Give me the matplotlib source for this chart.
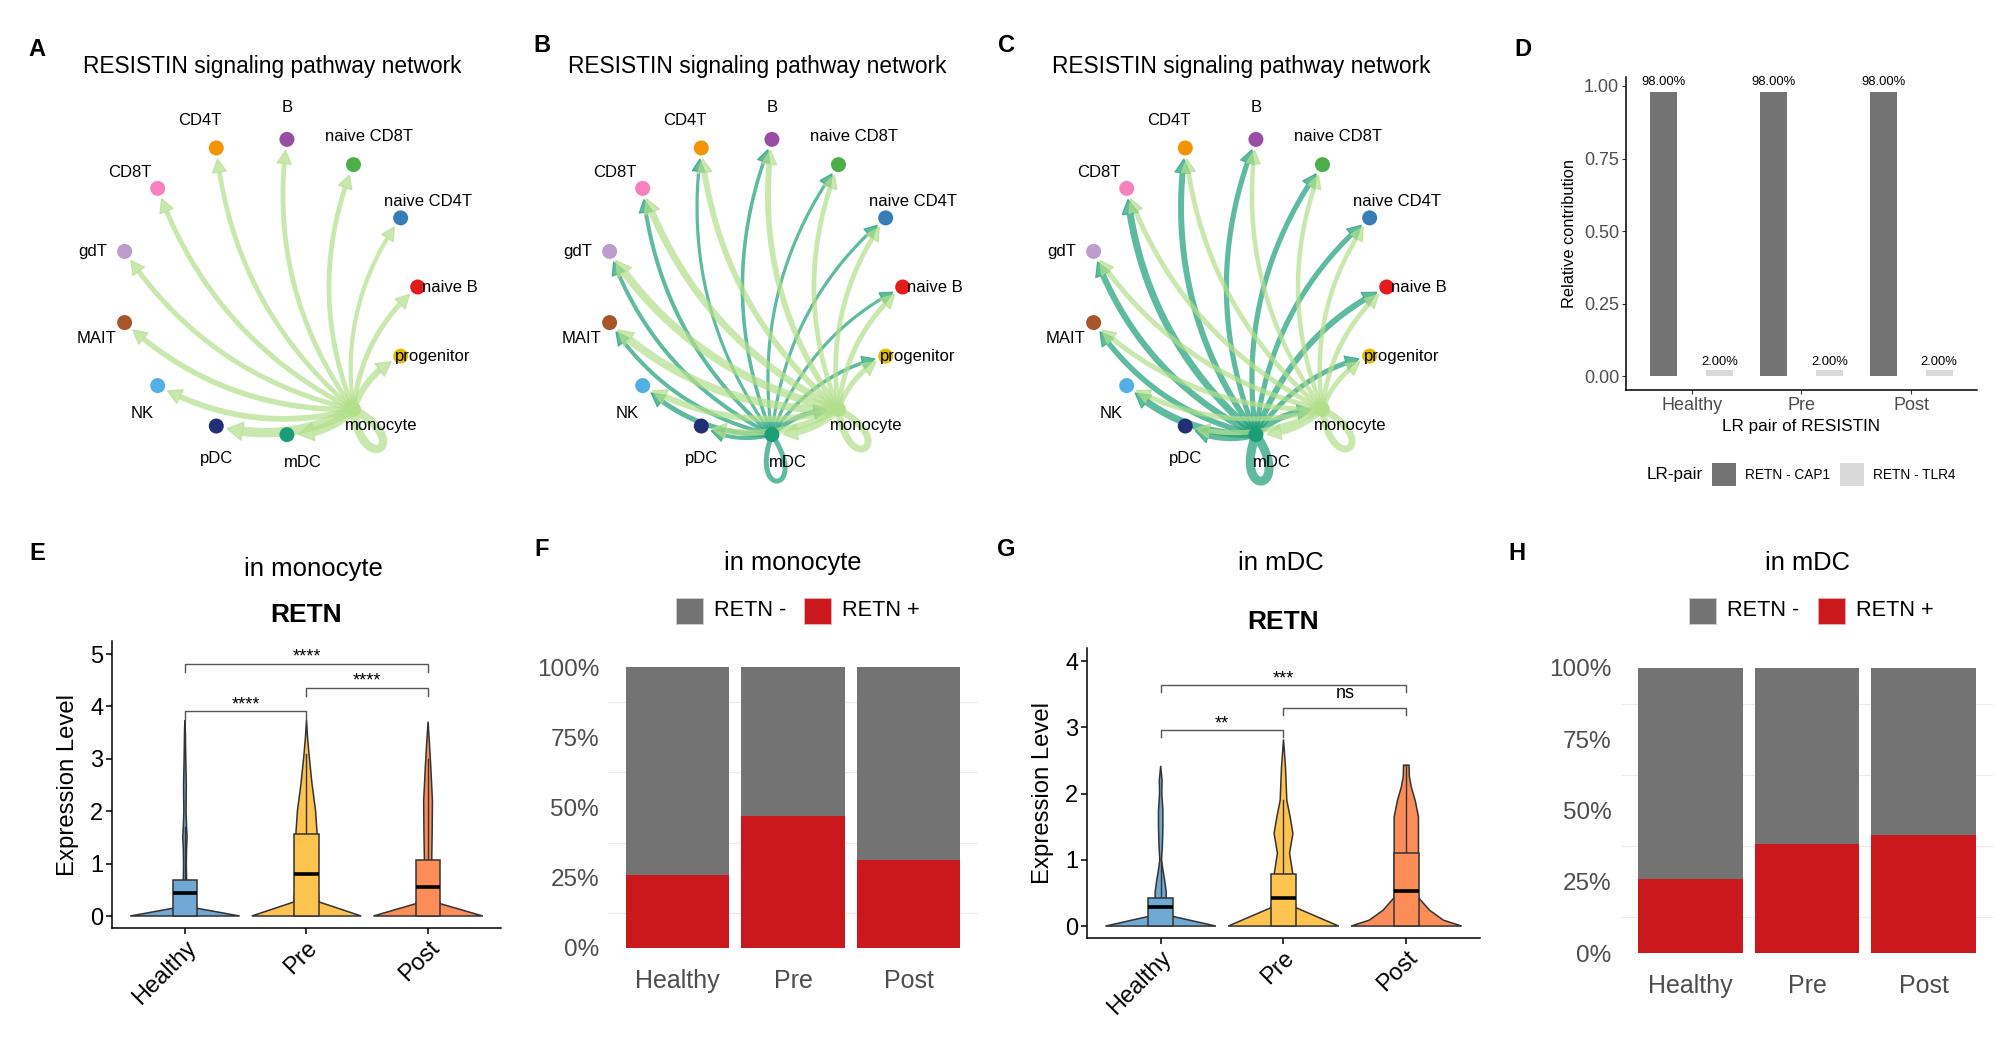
import numpy as np
import matplotlib
matplotlib.use("Agg")
import matplotlib.pyplot as plt
from matplotlib.patches import Polygon, Rectangle

plt.rcParams['font.family'] = ['Liberation Sans', 'DejaVu Sans']

# ---------------- data ----------------
cell_types = ["naive B", "naive CD4T", "naive CD8T", "B", "CD4T", "CD8T", "gdT",
              "MAIT", "NK", "pDC", "mDC", "monocyte", "progenitor"]
cell_colors = ["#E41A1C", "#377EB8", "#4DAF4A", "#984EA3", "#F29403", "#F781BF", "#BC9DCC",
               "#A65628", "#54B0E4", "#222F75", "#1B9E77", "#B2DF8A", "#E3BE00"]

# edge weights (source -> each target in cell_types order)
mono_A = [0.50, 0.42, 0.48, 0.48, 0.48, 0.50, 0.50, 0.55, 0.58, 0.95, 0.95, 0.85, 0.65]
mdc_A = [0] * 13
mono_B = [0.50, 0.48, 0.48, 0.58, 0.58, 0.70, 0.80, 0.80, 0.62, 0.62, 0.70, 0.70, 0.52]
mdc_B = [0.32, 0.32, 0.32, 0.36, 0.32, 0.40, 0.40, 0.40, 0.50, 0.40, 0.50, 0.50, 0.36]
mono_C = [0.48, 0.45, 0.45, 0.45, 0.48, 0.50, 0.50, 0.50, 0.50, 0.50, 0.60, 0.70, 0.50]
mdc_C = [0.60, 0.52, 0.52, 0.52, 0.60, 0.70, 0.62, 0.55, 0.72, 0.62, 0.90, 0.62, 0.50]

groups = ["Healthy", "Pre", "Post"]

# D: relative contribution of LR pairs
lr_pairs = ["RETN - CAP1", "RETN - TLR4"]
contrib_cap1 = [0.98, 0.98, 0.98]
contrib_tlr4 = [0.02, 0.02, 0.02]

# E: violin profiles in monocyte (level, relative half-width)
E_levels = [
    [0, 0.147, 0.3, 0.5, 0.68, 1.0, 1.3, 1.5, 1.7, 2.0, 2.5, 3.0, 3.5, 3.74],
    [0, 0.27, 0.6, 1.0, 1.56, 2.02, 2.53, 3.04, 3.4, 3.74],
    [0, 0.235, 0.5, 0.8, 1.07, 1.6, 2.2, 2.85, 3.3, 3.71],
]
E_widths = [
    [1, 0.225, 0.10, 0.05, 0.03, 0.025, 0.03, 0.04, 0.03, 0.02, 0.025, 0.015, 0.008, 0],
    [1, 0.225, 0.21, 0.20, 0.195, 0.165, 0.10, 0.05, 0.02, 0],
    [1, 0.225, 0.12, 0.08, 0.067, 0.075, 0.08, 0.05, 0.025, 0],
]
E_median = [0.43, 0.80, 0.55]
E_q3 = [0.68, 1.56, 1.07]
E_whisker = [1.7, 3.1, 3.0]
E_tests = [(1, 2, 3.91, "****"), (2, 3, 4.36, "****"), (1, 3, 4.82, "****")]

# G: violin profiles in mDC
G_levels = [
    [0, 0.146, 0.3, 0.43, 0.52, 0.7, 0.85, 1.0, 1.2, 1.5, 1.75, 2.0, 2.2, 2.42],
    [0, 0.28, 0.5, 0.78, 1.1, 1.4, 1.65, 1.9, 2.4, 2.82],
    [0, 0.09, 0.24, 0.43, 0.7, 1.11, 1.4, 1.65, 1.9, 2.1, 2.26, 2.43],
]
G_widths = [
    [1, 0.22, 0.13, 0.10, 0.10, 0.07, 0.04, 0.015, 0.03, 0.04, 0.04, 0.02, 0.025, 0],
    [1, 0.22, 0.20, 0.17, 0.11, 0.17, 0.12, 0.06, 0.036, 0],
    [1, 0.67, 0.42, 0.22, 0.22, 0.22, 0.22, 0.22, 0.16, 0.09, 0.055, 0.05],
]
G_median = [0.29, 0.43, 0.53]
G_q3 = [0.43, 0.78, 1.11]
G_whisker = [1.0, 1.9, 2.43]
G_tests = [(1, 2, 2.96, "**"), (2, 3, 3.29, "ns"), (1, 3, 3.64, "***")]

violin_colors = ["#6FA8D3", "#FEC44F", "#FC8D59"]

# F / H: fraction RETN+
F_pos = [0.26, 0.47, 0.313]
H_pos = [0.259, 0.382, 0.413]

# ---------------- figure ----------------
W, H = 2008, 1056
fig = plt.figure(figsize=(W / 100, H / 100), dpi=100)
PX = 0.72  # px -> pt
EDGE_ALPHA = 0.7


def add_ax(l, t, r, b):
    return fig.add_axes([l / W, 1 - b / H, (r - l) / W, (b - t) / H])


canvas = fig.add_axes([0, 0, 1, 1])
canvas.set_xlim(0, W)
canvas.set_ylim(H, 0)
canvas.axis('off')
canvas.patch.set_alpha(0)


def quad_curve(p0, p2, f=0.2, n=160):
    d = p2 - p0
    c = (p0 + p2) / 2 + f * np.array([d[1], -d[0]])
    t = np.linspace(0, 1, n)[:, None]
    return (1 - t) ** 2 * p0 + 2 * (1 - t) * t * c + t ** 2 * p2


def draw_edge(ax, p0, p2, color, wpx, alpha=EDGE_ALPHA, tip_r=11):
    pts = quad_curve(p0, p2)
    seg = np.sqrt((np.diff(pts, axis=0) ** 2).sum(1))
    from_end = np.concatenate([np.cumsum(seg[::-1])[::-1], [0.0]])
    head_len = 11 + 0.5 * wpx
    hw = 5 + 0.45 * wpx
    fe = from_end[::-1]
    tip = np.array([np.interp(tip_r, fe, pts[::-1, 0]), np.interp(tip_r, fe, pts[::-1, 1])])
    base = np.array([np.interp(tip_r + head_len, fe, pts[::-1, 0]),
                     np.interp(tip_r + head_len, fe, pts[::-1, 1])])
    keep = from_end > tip_r + head_len
    line = np.vstack([pts[keep], base])
    ax.plot(line[:, 0], line[:, 1], color=color, alpha=alpha, lw=wpx * PX,
            solid_capstyle='butt', zorder=2)
    u = (tip - base) / np.linalg.norm(tip - base)
    nrm = np.array([-u[1], u[0]])
    ax.add_patch(Polygon([tip, base + nrm * hw, base - nrm * hw], closed=True,
                         facecolor=color, edgecolor=color, alpha=alpha, lw=0.8, zorder=2))


def rot(v, th):
    return np.array([v[0] * np.cos(th) - v[1] * np.sin(th), v[0] * np.sin(th) + v[1] * np.cos(th)])


def draw_loop(ax, p, ang, color, wpx, alpha=EDGE_ALPHA):
    u = np.array([np.cos(ang), -np.sin(ang)])
    L, th = 70, np.deg2rad(27)
    p1 = p + L * rot(u, th)
    p2 = p + L * rot(u, -th)
    t = np.linspace(0, 1, 120)[:, None]
    pts = (1 - t) ** 3 * p + 3 * (1 - t) ** 2 * t * p1 + 3 * (1 - t) * t ** 2 * p2 + t ** 3 * p
    ax.plot(pts[:, 0], pts[:, 1], color=color, alpha=alpha, lw=wpx * PX,
            solid_capstyle='round', zorder=2)


def draw_network(cx, cy, sources):
    R = 148.7
    n = len(cell_types)
    angs = np.deg2rad(np.arange(n) * 360.0 / n)
    pos = np.column_stack([cx + R * np.cos(angs), cy - R * np.sin(angs)])
    for src, weights in sources:
        col = cell_colors[src]
        for j, w in enumerate(weights):
            if w <= 0:
                continue
            if j == src:
                draw_loop(canvas, pos[src], angs[src], col, 10 * w)
            else:
                draw_edge(canvas, pos[src], pos[j], col, 10 * w)
    canvas.scatter(pos[:, 0], pos[:, 1], s=(15 * PX) ** 2, c=cell_colors, zorder=5,
                   linewidths=0)
    for k, name in enumerate(cell_types):
        la = np.deg2rad(30 * k)
        canvas.text(pos[k, 0] + 32 * np.cos(la), pos[k, 1] - 32 * np.sin(la), name,
                    ha='center', va='center', fontsize=12, zorder=6)
    canvas.text(cx + 3, 67, "RESISTIN signaling pathway network", ha='center',
                va='center', fontsize=16.4)


mono_idx = cell_types.index("monocyte")
mdc_idx = cell_types.index("mDC")
draw_network(269, 287, [(mdc_idx, mdc_A), (mono_idx, mono_A)])
draw_network(754, 287, [(mdc_idx, mdc_B), (mono_idx, mono_B)])
draw_network(1238, 287, [(mdc_idx, mdc_C), (mono_idx, mono_C)])

# panel letters
for lab, (x, y) in zip("ABCDEFGH", [(37, 49), (542, 46), (1007, 45), (1523, 49),
                                    (37, 554), (542, 549), (1006, 549), (1517, 554)]):
    canvas.text(x, y, lab, ha='center', va='center', fontsize=17, fontweight='bold')

# ---------------- D ----------------
axD = add_ax(1626, 77, 1977, 390)
xs = np.arange(1, 4)
axD.bar(xs - 0.255, contrib_cap1, width=0.245, color='#737373')
axD.bar(xs + 0.255, contrib_tlr4, width=0.245, color='#D9D9D9')
for x, v in zip(xs - 0.255, contrib_cap1):
    axD.text(x, v + 0.035, f"{v * 100:.2f}%", ha='center', va='center', fontsize=9.4)
for x, v in zip(xs + 0.255, contrib_tlr4):
    axD.text(x, v + 0.03, f"{v * 100:.2f}%", ha='center', va='center', fontsize=9.4)
axD.set_xlim(0.4, 3.6)
axD.set_ylim(-0.048, 1.031)
axD.set_xticks(xs)
axD.set_xticklabels(groups)
axD.set_yticks([0, 0.25, 0.5, 0.75, 1.0])
axD.set_yticklabels(["0.00", "0.25", "0.50", "0.75", "1.00"])
for s in ['top', 'right']:
    axD.spines[s].set_visible(False)
for s in ['left', 'bottom']:
    axD.spines[s].set_linewidth(1.1)
axD.tick_params(length=3, width=0.8, colors='#333333', labelsize=13, pad=2)
for t in axD.get_xticklabels() + axD.get_yticklabels():
    t.set_color('#4D4D4D')
canvas.text(1570, 233, "Relative contribution", rotation=90, ha='center', va='center',
            fontsize=11.8)
canvas.text(1801, 427, "LR pair of RESISTIN", ha='center', va='center', fontsize=12.3)
canvas.text(1647, 475, "LR-pair", ha='left', va='center', fontsize=12.3)
canvas.add_patch(Rectangle((1712, 463), 24, 23, facecolor='#737373', edgecolor='none'))
canvas.text(1745, 475, lr_pairs[0], ha='left', va='center', fontsize=9.8)
canvas.add_patch(Rectangle((1840, 463), 24, 23, facecolor='#D9D9D9', edgecolor='none'))
canvas.text(1873, 475, lr_pairs[1], ha='left', va='center', fontsize=9.8)


# ---------------- violins ----------------
def violin_panel(ax, levels, widths, med, q3, whisk, tests, ylim, yticks, drop):
    for i in range(3):
        cx = i + 1
        y = np.array(levels[i], float)
        hw = 0.45 * np.array(widths[i], float)
        poly = np.column_stack([np.concatenate([cx - hw, (cx + hw)[::-1]]),
                                np.concatenate([y, y[::-1]])])
        ax.add_patch(Polygon(poly, closed=True, facecolor=violin_colors[i],
                             edgecolor='#333333', lw=1.1, zorder=2))
        ax.plot([cx, cx], [q3[i], whisk[i]], color='#333333', lw=1.0, zorder=3)
        ax.add_patch(Rectangle((cx - 0.1, 0), 0.2, q3[i], facecolor=violin_colors[i],
                               edgecolor='#333333', lw=1.1, zorder=3))
        ax.plot([cx - 0.1, cx + 0.1], [med[i], med[i]], color='black', lw=2.6,
                solid_capstyle='butt', zorder=4)
    for a, b, yv, lab in tests:
        ax.plot([a, a, b, b], [yv - drop, yv, yv, yv - drop], color='#555555', lw=1.0)
        ax.text((a + b) / 2, yv + 0.04 * (ylim[1] - ylim[0]) * 0.55, lab, ha='center',
                va='bottom' if lab == 'ns' else 'center', fontsize=13)
    ax.set_xlim(0.4, 3.6)
    ax.set_ylim(*ylim)
    ax.set_xticks([1, 2, 3])
    ax.set_xticklabels(groups, rotation=45, ha='right', va='top', rotation_mode='anchor')
    ax.set_yticks(yticks)
    for s in ['top', 'right']:
        ax.spines[s].set_visible(False)
    for s in ['left', 'bottom']:
        ax.spines[s].set_linewidth(1.1)
    ax.tick_params(length=4.3, width=1.1, labelsize=17, colors='black', pad=2)


axE = add_ax(112, 641, 501, 928)
violin_panel(axE, E_levels, E_widths, E_median, E_q3, E_whisker, E_tests,
             (-0.229, 5.25), [0, 1, 2, 3, 4, 5], 0.16)
canvas.text(313, 569, "in monocyte", ha='center', va='center', fontsize=18.5)
canvas.text(306, 615, "RETN", ha='center', va='center', fontsize=19, fontweight='bold')
canvas.text(68, 785, "Expression Level", rotation=90, ha='center', va='center', fontsize=17.2)

axG = add_ax(1087, 648, 1480, 938)
violin_panel(axG, G_levels, G_widths, G_median, G_q3, G_whisker, G_tests,
             (-0.18, 4.2), [0, 1, 2, 3, 4], 0.1)
canvas.text(1281, 563, "in mDC", ha='center', va='center', fontsize=18.5)
canvas.text(1283, 622, "RETN", ha='center', va='center', fontsize=19, fontweight='bold')
canvas.text(1043, 793, "Expression Level", rotation=90, ha='center', va='center', fontsize=17.2)


# ---------------- stacked fraction bars ----------------
def fraction_panel(ax, pos_frac):
    xs = np.arange(1, 4)
    pos_frac = np.array(pos_frac)
    for g in [0.125, 0.375, 0.625, 0.875]:
        ax.axhline(g, color='#EBEBEB', lw=0.8, zorder=0)
    ax.bar(xs, pos_frac, width=0.9, color='#CB181D', zorder=2)
    ax.bar(xs, 1 - pos_frac, bottom=pos_frac, width=0.9, color='#737373', zorder=2)
    ax.set_xlim(0.4, 3.6)
    ax.set_ylim(-0.05, 1.05)
    ax.set_xticks(xs)
    ax.set_xticklabels(groups)
    ax.set_yticks([0, 0.25, 0.5, 0.75, 1.0])
    ax.set_yticklabels(["0%", "25%", "50%", "75%", "100%"])
    for s in ax.spines.values():
        s.set_visible(False)
    ax.tick_params(axis='y', length=0, labelsize=17.5, colors='#4D4D4D', pad=6.5)
    ax.tick_params(axis='x', length=0, labelsize=18, colors='#4D4D4D', pad=5)


axF = add_ax(608.2, 653, 977.8, 962)
fraction_panel(axF, F_pos)
canvas.text(793, 563, "in monocyte", ha='center', va='center', fontsize=18.4)
axH = add_ax(1620.6, 653.75, 1993.4, 967.25)
fraction_panel(axH, H_pos)
canvas.text(1807, 563, "in mDC", ha='center', va='center', fontsize=18.4)

for gx, rx in [(676, 804), (1689, 1818)]:
    canvas.add_patch(Rectangle((gx, 598), 27, 26, facecolor='#737373', edgecolor='#D0D0D0', lw=0.6))
    canvas.text(gx + 38, 611, "RETN -", ha='left', va='center', fontsize=15.7)
    canvas.add_patch(Rectangle((rx, 598), 27, 26, facecolor='#CB181D', edgecolor='#F0B0B0', lw=0.6))
    canvas.text(rx + 38, 611, "RETN +", ha='left', va='center', fontsize=15.7)

fig.savefig("out.png", dpi=100)
